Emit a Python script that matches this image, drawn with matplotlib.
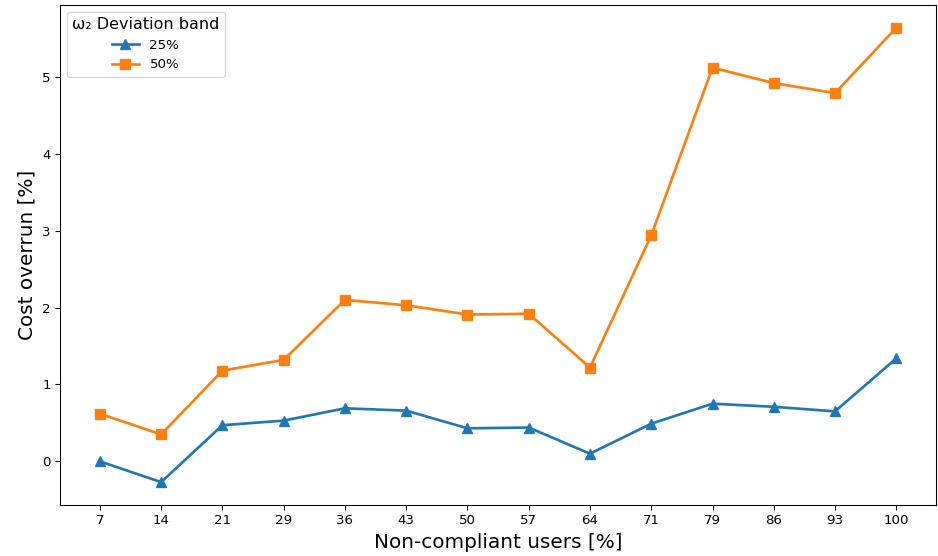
import matplotlib
matplotlib.use("Agg")
import matplotlib.pyplot as plt
import numpy as np

# data
users = ["7", "14", "21", "29", "36", "43", "50", "57", "64", "71", "79", "86", "93", "100"]
band_25 = [0.00, -0.27, 0.47, 0.53, 0.69, 0.66, 0.43, 0.44, 0.10, 0.49, 0.75, 0.71, 0.65, 1.34]
band_50 = [0.62, 0.35, 1.18, 1.32, 2.10, 2.03, 1.91, 1.92, 1.22, 2.94, 5.12, 4.92, 4.79, 5.64]

x = np.arange(len(users))

DPI = 96
fig = plt.figure(figsize=(938 / DPI, 556 / DPI), dpi=DPI)
ax = fig.add_axes([0.064, 0.092, 0.934, 0.899])

ax.plot(x, band_25, marker="^", markersize=7, linewidth=2, color="#1f77b4", label="25%")
ax.plot(x, band_50, marker="s", markersize=7, linewidth=2, color="#ff7f0e", label="50%")

ax.set_xticks(x)
ax.set_xticklabels(users)
ax.tick_params(labelsize=10)
ax.set_xlabel("Non-compliant users [%]", fontsize=15)
ax.set_ylabel("Cost overrun [%]", fontsize=15)

leg = ax.legend(title="ω₂ Deviation band", fontsize=10, title_fontsize=12, loc="upper left")

fig.savefig("out.png", dpi=DPI)
